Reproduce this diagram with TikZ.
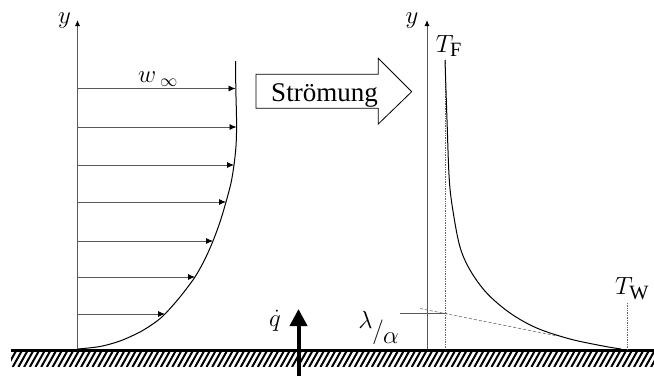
\documentclass[tikz,border=0pt]{standalone}
\usepackage{fontspec}
\setmainfont{Liberation Serif}
\usetikzlibrary{arrows.meta}
\tikzset{
  axisline/.style={draw=black!65, line width=0.8pt, -{Latex[length=6pt,width=5pt,color=black]}},
  velarrow/.style={draw=black!65, line width=0.8pt, -{Latex[length=7pt,width=6pt,color=black]}},
  profile/.style={draw=black, line width=1pt},
  lbl/.style={inner sep=0pt, font=\fontsize{26}{30}\selectfont},
  biglbl/.style={inner sep=0pt, font=\fontsize{29}{32}\selectfont},
  guide/.style={draw=black!60, line width=0.7pt, densely dotted},
}
\begin{document}
\begin{tikzpicture}[x=1pt,y=-1pt]
\useasboundingbox (0,0) rectangle (654,376);
% ground hatching
\begin{scope}
\clip (11,351) rectangle (654,366.5);
\foreach \i in {0,...,118} {
  \draw[line width=2pt] ({11+\i*5.7-4},367) -- ({11+\i*5.7+5},351);
}
\end{scope}
\draw[line width=3.6pt] (11,350.6) -- (654,350.6);

% left axis
\coordinate (la0) at (77.5,349);
\coordinate (la1) at (77.5,20);
\draw[axisline] (la0) -- (la1);
\node[biglbl] (ylabL) at (64.5,21) {$y$};

% velocity profile
\draw[profile] plot[smooth, tension=0.5] coordinates {(78,349) (100,346.5) (120,341) (140,332) (155,322.5) (165,314) (180,297) (195,277) (205,259) (213,241) (220,222) (226,202) (231,183) (234,165) (236,146) (236.6,127) (236.3,108) (235.8,88) (235.6,61)};
\foreach \yy/\xx [count=\k] in {88.5/235.5, 127/236.5, 165/234, 202/226, 241/213, 277/195, 314/165} {
  \coordinate (vs\k) at (77.5,\yy);
  \coordinate (ve\k) at (\xx,\yy);
  \draw[velarrow] (vs\k) -- (ve\k);
}
\node[lbl] (winf) at (158,79) {$w_{\;\infty}$};

% flow arrow
\draw[line width=0.8pt] (256,74.3) -- (378.3,74.3) -- (378.3,58.3) -- (411.7,91.7) -- (378.3,124) -- (378.3,108.3) -- (256,108.3) -- cycle;
\node[inner sep=0pt, anchor=base, font=\fontsize{27}{30}\selectfont] (flow) at (324.5,101.7) {Strömung};

% right axis
\coordinate (ra0) at (427,349);
\coordinate (ra1) at (427,20);
\draw[axisline] (ra0) -- (ra1);
\node[biglbl] (ylabR) at (412,21) {$y$};

% guides
\coordinate (tf0) at (445,60);
\coordinate (tf1) at (445,349);
\draw[guide] (tf0) -- (tf1);
\coordinate (tw0) at (627,303);
\coordinate (tw1) at (627,349);
\draw[guide] (tw0) -- (tw1);
\coordinate (lh0) at (400,313);
\coordinate (lh1) at (447,313);
\draw[draw=black!65, line width=0.7pt] (lh0) -- (lh1);
\coordinate (tg0) at (420,308.5);
\coordinate (tg1) at (555,335.5);
\draw[draw=black!60, line width=0.6pt, dash pattern=on 3pt off 2pt] (tg0) -- (tg1);

% temperature profile
\draw[profile] plot[smooth, tension=0.55] coordinates {(445,60) (447,120) (449.3,180) (453.3,213) (460,247) (470,270) (486.7,293) (510,313) (536.7,328) (570,339) (603,346) (621,349)};

\node[biglbl] (TF) at (449,46) {$T_{\mathrm{F}}$};
\node[biglbl] (TW) at (632,289) {$T_{\mathrm{W}}$};
\node[lbl] (lam) at (365.5,320) {$\lambda$};
\node[lbl, font=\fontsize{31}{32}\selectfont] (slash) at (378,332.5) {$/$};
\node[lbl] (alp) at (391,338.5) {$\alpha$};

% heat flux arrow
\coordinate (q0) at (298.5,376);
\coordinate (q1) at (298.5,309);
\draw[line width=4pt, -{Triangle[length=17pt,width=17pt]}] (q0) -- (q1);
\node[lbl] (qdot) at (275,321) {$\dot q$};
\end{tikzpicture}
\end{document}
